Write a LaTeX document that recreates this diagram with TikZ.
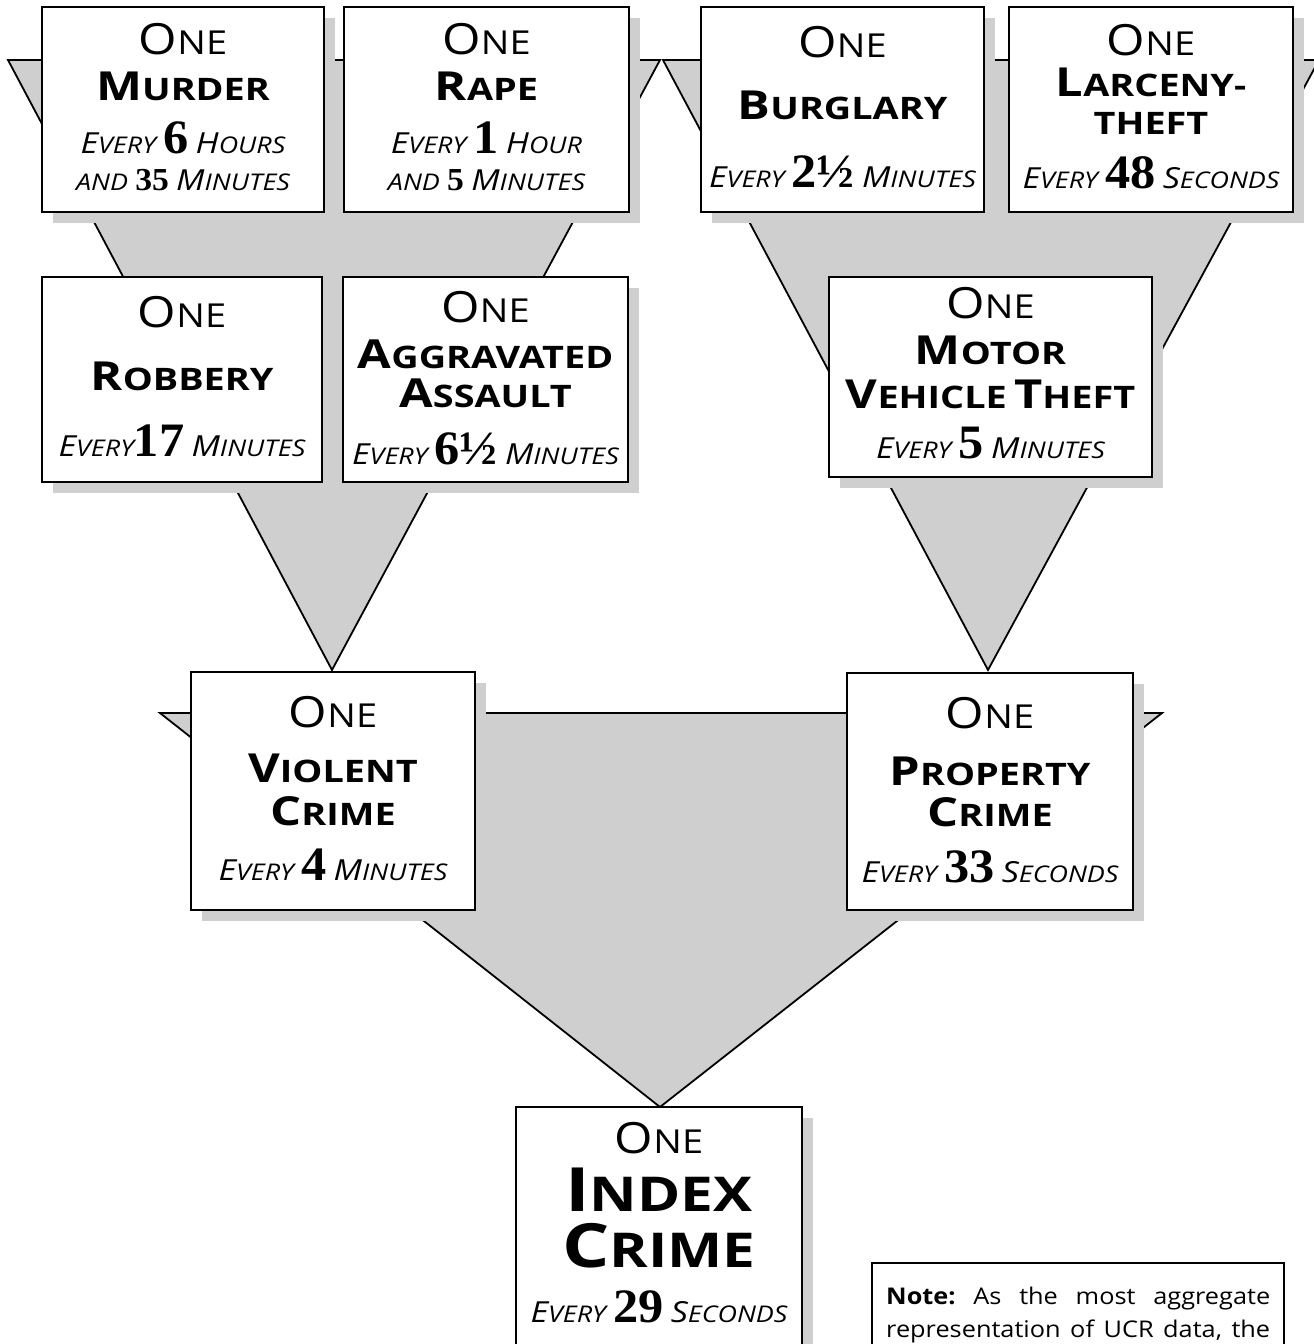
\documentclass[tikz,border=0pt]{standalone}
\usepackage{fontspec}
\setmainfont{Open Sans}
\newfontfamily\onef[FakeStretch=1.15]{Open Sans}
\newfontfamily\namef[FakeStretch=1.22]{Open Sans}
\newfontfamily\evf[FakeStretch=1.17]{Open Sans}
\newfontfamily\numf[FakeStretch=1.05]{Liberation Serif}
\newfontfamily\notef[FakeStretch=1.1]{Open Sans}
\usetikzlibrary{shadows}
\definecolor{stip}{gray}{0.81}
\frenchspacing
\newcommand\SCx[4]{{\fontsize{#1pt}{#1pt}\selectfont #3}{\fontsize{#2pt}{#2pt}\selectfont #4}}
\newcommand\One{{\onef\SCx{43}{33}{O}{NE}}}
\newcommand\Nm[2]{{\namef\bfseries\SCx{40}{31}{#1}{#2}}}
\newcommand\NmB[2]{{\namef\bfseries\SCx{61}{48}{#1}{#2}}}
\newcommand\Ev[2]{{\evf\itshape\SCx{29}{23}{#1}{#2}}}
\newcommand\Num[1]{{\numf\bfseries\fontsize{48pt}{48pt}\selectfont #1}}
\newcommand\NumS[1]{{\numf\bfseries\fontsize{32pt}{32pt}\selectfont #1}}
\tikzset{
  funnel/.style={fill=stip, draw=black, line width=1.8pt, line join=miter},
  box/.style={draw=black, line width=2.4pt, fill=white, inner sep=0pt,
    drop shadow={shadow xshift=11pt, shadow yshift=-11pt, fill=stip, opacity=1}},
  notebox/.style={draw=black, line width=1.8pt, fill=white, inner sep=0pt},
  txt/.style={anchor=base, inner sep=0pt, font=\evf\fontsize{24pt}{24pt}\selectfont},
  notetxt/.style={anchor=base west, inner sep=0pt, font=\notef\fontsize{23pt}{23pt}\selectfont},
}
\begin{document}
\begin{tikzpicture}[x=1pt,y=-1pt]
\useasboundingbox (0,0) rectangle (1314,1344);
% funnels
\coordinate (fa1) at (8,60);   \coordinate (fa2) at (660,60);  \coordinate (fa3) at (332,670);
\coordinate (fb1) at (663,60); \coordinate (fb2) at (1319,60); \coordinate (fb3) at (988,670);
\coordinate (fc1) at (160,713);\coordinate (fc2) at (1162,713);\coordinate (fc3) at (660,1107);
\draw[funnel] (fa1) -- (fa2) -- (fa3) -- cycle;
\draw[funnel] (fb1) -- (fb2) -- (fb3) -- cycle;
\draw[funnel] (fc1) -- (fc2) -- (fc3) -- cycle;
% boxes
\node[box, minimum width=282pt, minimum height=205pt] (murder) at (183,109.5) {};
\node[box, minimum width=285pt, minimum height=205pt] (rape) at (486.5,109.5) {};
\node[box, minimum width=283pt, minimum height=205pt] (burglary) at (842.5,109.5) {};
\node[box, minimum width=284pt, minimum height=205pt] (larceny) at (1151,109.5) {};
\node[box, minimum width=280pt, minimum height=205pt] (robbery) at (182,379.5) {};
\node[box, minimum width=285pt, minimum height=205pt] (aggr) at (485.5,379.5) {};
\node[box, minimum width=323pt, minimum height=200pt] (motor) at (990.5,377) {};
\node[box, minimum width=284pt, minimum height=238pt] (violent) at (333,791) {};
\node[box, minimum width=286pt, minimum height=237pt] (property) at (990,791.5) {};
\node[box, minimum width=286pt, minimum height=253pt] (index) at (659,1233.5) {};
\node[notebox, minimum width=412pt, minimum height=107pt] (note) at (1078,1316.5) {};
% murder
\node[txt] (murder-1) at (183,54) {\One};
\node[txt] (murder-2) at (183,100) {\Nm{M}{URDER}};
\node[txt] (murder-3) at (183,153) {\Ev{E}{VERY} \Num{6} \Ev{H}{OURS}};
\node[txt] (murder-4) at (183,190) {\Ev{}{AND} \NumS{35} \Ev{M}{INUTES}};
% rape
\node[txt] (rape-1) at (486.5,54) {\One};
\node[txt] (rape-2) at (486.5,100) {\Nm{R}{APE}};
\node[txt] (rape-3) at (486.5,153) {\Ev{E}{VERY} \Num{1} \Ev{H}{OUR}};
\node[txt] (rape-4) at (486.5,190) {\Ev{}{AND} \NumS{5} \Ev{M}{INUTES}};
% burglary
\node[txt] (burglary-1) at (842.5,57) {\One};
\node[txt] (burglary-2) at (842.5,119) {\Nm{B}{URGLARY}};
\node[txt] (burglary-3) at (842.5,187) {\Ev{E}{VERY} \Num{2½} \Ev{M}{INUTES}};
% larceny
\node[txt] (larceny-1) at (1151,55) {\One};
\node[txt] (larceny-2) at (1151,96) {\Nm{L}{ARCENY-}};
\node[txt] (larceny-3) at (1151,134) {\Nm{}{THEFT}};
\node[txt] (larceny-4) at (1151,188) {\Ev{E}{VERY} \Num{48} \Ev{S}{ECONDS}};
% robbery
\node[txt] (robbery-1) at (182,327) {\One};
\node[txt] (robbery-2) at (182,390) {\Nm{R}{OBBERY}};
\node[txt] (robbery-3) at (182,456) {\Ev{E}{VERY}\Num{17} \Ev{M}{INUTES}};
% aggravated assault
\node[txt] (aggr-1) at (485.5,322) {\One};
\node[txt] (aggr-2) at (485.5,368) {\Nm{A}{GGRAVATED}};
\node[txt] (aggr-3) at (485.5,407) {\Nm{A}{SSAULT}};
\node[txt] (aggr-4) at (485.5,464) {\Ev{E}{VERY} \Num{6½} \Ev{M}{INUTES}};
% motor vehicle theft
\node[txt] (motor-1) at (990.5,318) {\One};
\node[txt] (motor-2) at (990.5,364) {\Nm{M}{OTOR}};
\node[txt] (motor-3) at (990.5,408) {\Nm{V}{EHICLE} \Nm{T}{HEFT}};
\node[txt] (motor-4) at (990.5,458) {\Ev{E}{VERY} \Num{5} \Ev{M}{INUTES}};
% violent crime
\node[txt] (violent-1) at (333,727) {\One};
\node[txt] (violent-2) at (333,782) {\Nm{V}{IOLENT}};
\node[txt] (violent-3) at (333,825) {\Nm{C}{RIME}};
\node[txt] (violent-4) at (333,880) {\Ev{E}{VERY} \Num{4} \Ev{M}{INUTES}};
% property crime
\node[txt] (property-1) at (990,728) {\One};
\node[txt] (property-2) at (990,785) {\Nm{P}{ROPERTY}};
\node[txt] (property-3) at (990,826) {\Nm{C}{RIME}};
\node[txt] (property-4) at (990,882) {\Ev{E}{VERY} \Num{33} \Ev{S}{ECONDS}};
% index crime
\node[txt] (index-1) at (659,1153) {\One};
\node[txt] (index-2) at (659,1211) {\NmB{I}{NDEX}};
\node[txt] (index-3) at (659,1267) {\NmB{C}{RIME}};
\node[txt] (index-4) at (659,1322) {\Ev{E}{VERY} \Num{29} \Ev{S}{ECONDS}};
% note
\node[notetxt] (note-1) at (886,1304)
  {\makebox[384pt][s]{\textbf{Note:} As the most aggregate}};
\node[notetxt] (note-2) at (886,1337)
  {\makebox[384pt][s]{representation of UCR data, the}};
\end{tikzpicture}
\end{document}
